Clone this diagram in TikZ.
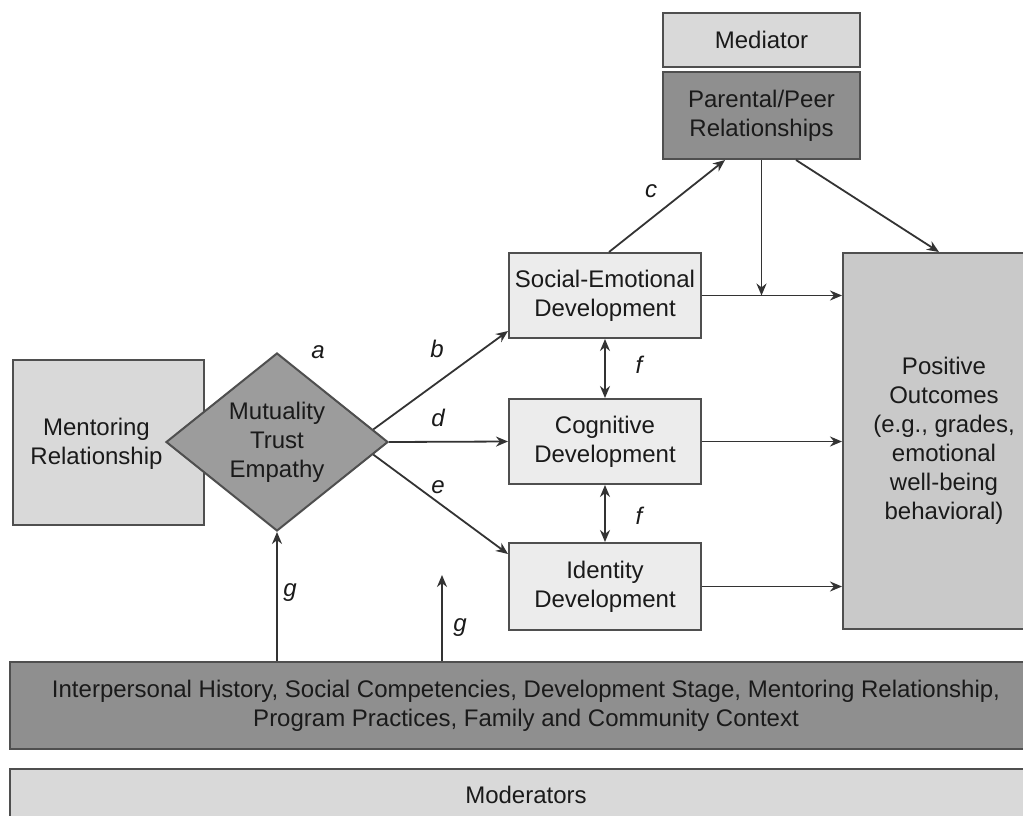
\documentclass[tikz,border=0pt]{standalone}
\usepackage{fontspec}
\setmainfont{Liberation Sans}
\usetikzlibrary{shapes.geometric,arrows.meta,calc}
\definecolor{bordc}{HTML}{4F4F4F}
\definecolor{arrc}{HTML}{333333}
\definecolor{txt}{HTML}{1A1A1A}
\definecolor{devc}{HTML}{ECECEC}
\definecolor{lightc}{HTML}{D9D9D9}
\definecolor{darkc}{HTML}{8F8F8F}
\definecolor{diac}{HTML}{9C9C9C}
\definecolor{posc}{HTML}{C9C9C9}
\begin{document}
\begin{tikzpicture}[x=0.5pt,y=-0.5pt,
  font=\fontsize{12}{14.5}\selectfont,
  box/.style={draw=bordc, line width=1pt, inner sep=0pt, align=center, text=txt},
  plain/.style={inner sep=0pt, align=center, text=txt},
  lab/.style={font=\fontsize{12}{14.5}\selectfont\itshape, text=txt, inner sep=0pt},
  arr/.style={draw=arrc, line width=0.9pt, -{Stealth[length=6pt,width=5pt]}},
  darr/.style={draw=arrc, line width=0.9pt, {Stealth[length=6pt,width=5pt]}-{Stealth[length=6pt,width=5pt]}}]
\clip (0,0) rectangle (1023,815);
\fill[white] (0,0) rectangle (1023,815);
% boxes
\node[box, fill=lightc, minimum width=98.5pt, minimum height=27pt] (med) at (761.5,40) {Mediator};
\node[box, fill=darkc, minimum width=98.5pt, minimum height=43.5pt] (par) at (761.5,115.5) {Parental/Peer\\Relationships};
\node[box, fill=devc, minimum width=96pt, minimum height=42.5pt] (se) at (605,295.5) {Social-Emotional\\Development};
\node[box, fill=devc, minimum width=96pt, minimum height=42.5pt] (cog) at (605,441.5) {Cognitive\\Development};
\node[box, fill=devc, minimum width=96pt, minimum height=43.5pt] (id) at (605,586.5) {Identity\\Development};
\node[box, fill=posc, minimum width=101pt, minimum height=188pt] (pos) at (944,441) {Positive\\Outcomes\\(e.g., grades,\\emotional\\well-being\\behavioral)};
\node[box, fill=lightc, minimum width=95.5pt, minimum height=82.5pt] (men) at (108.5,442.5) {};
\node[plain] (mentxt) at ($(men.center)+(-12,1)$) {Mentoring\\Relationship};
\node[box, diamond, fill=diac, minimum width=111pt, minimum height=89pt] (dia) at (277,442) {Mutuality\\Trust\\Empathy};
\node[box, fill=darkc, minimum width=516pt, minimum height=43.5pt] (bar) at (526,705.5) {Interpersonal History, Social Competencies, Development Stage, Mentoring Relationship,\\Program Practices, Family and Community Context};
\node[box, fill=lightc, minimum width=516pt, minimum height=26pt] (mod) at (526,795) {Moderators};
% connectors
\coordinate (j) at (par.south |- se.east);
\coordinate (g2end) at (442,575);
\draw[arr] ($(dia.north)!0.86!(dia.east)$) -- ($(se.south west)+(0,-8)$);
\draw[arr] (dia.east) -- (cog.west);
\draw[arr] ($(dia.south)!0.86!(dia.east)$) -- ($(id.north west)+(0,12)$);
\draw[arr] ($(se.north)+(4,0)$) -- ($(par.south west)+(63,0)$);
\draw[arr] (par.south) -- (j);
\draw[arr] ($(par.south east)+(-65,0)$) -- ($(pos.north west)+(97,0)$);
\draw[arr] (se.east) -- (se.east -| pos.west);
\draw[arr] (cog.east) -- (cog.east -| pos.west);
\draw[arr] (id.east) -- (id.east -| pos.west);
\draw[darr] (se.south) -- (cog.north);
\draw[darr] (cog.south) -- (id.north);
\draw[arr] (bar.north -| dia.south) -- (dia.south);
\draw[arr] (bar.north -| g2end) -- (g2end);
% labels
\node[lab] (la) at (318,352) {a};
\node[lab] (lb) at (437,349) {b};
\node[lab] (lc) at (651,191) {c};
\node[lab] (ld) at (438,418) {d};
\node[lab] (le) at (438,487) {e};
\node[lab] (lf1) at (639,365) {f};
\node[lab] (lf2) at (639,516) {f};
\node[lab] (lg1) at (290,593) {g};
\node[lab] (lg2) at (460,628) {g};
\end{tikzpicture}
\end{document}
